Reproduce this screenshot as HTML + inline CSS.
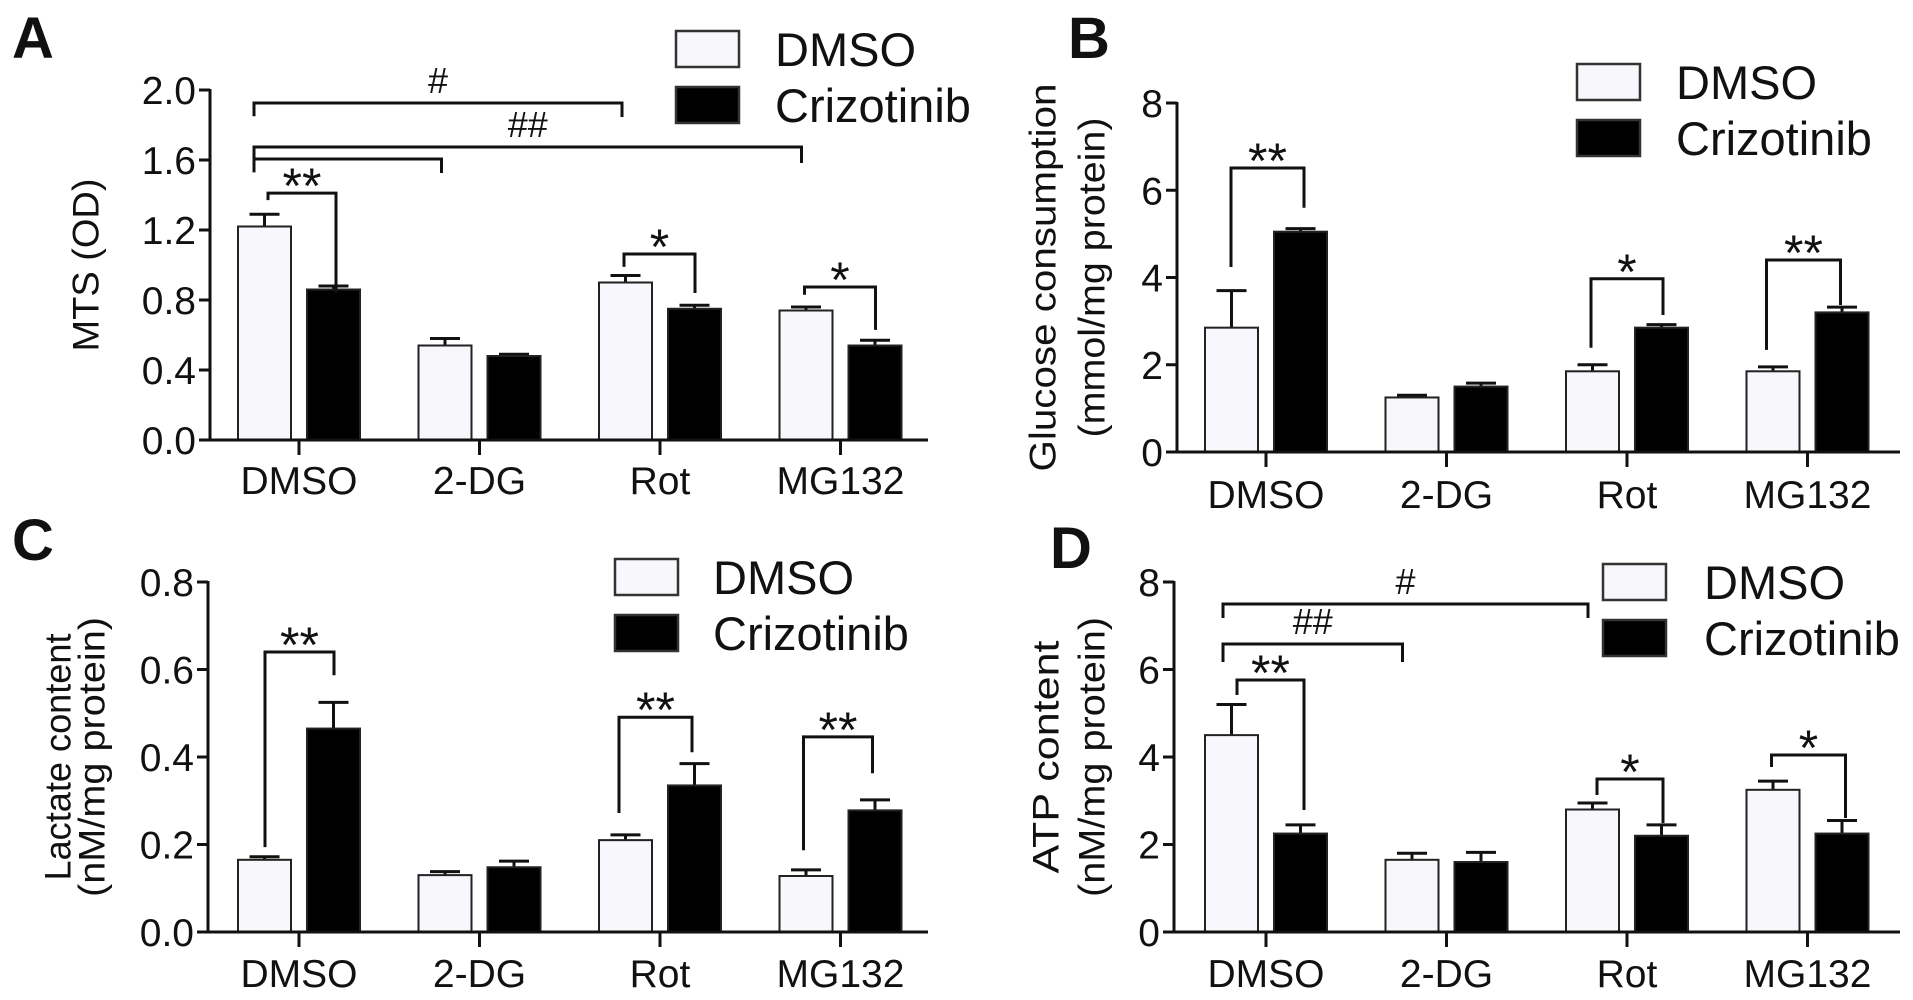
<!DOCTYPE html>
<html><head><meta charset="utf-8"><style>
html,body{margin:0;padding:0;background:#fff;}
svg{display:block;}
text{font-family:"Liberation Sans",sans-serif;fill:#111;}
</style></head><body>
<svg id="fig" width="1913" height="1000" viewBox="0 0 1913 1000" xmlns="http://www.w3.org/2000/svg"></svg>
<script>
// ---- data ----
const categories = ["DMSO","2-DG","Rot","MG132"];
const seriesNames = ["DMSO","Crizotinib"];
const aDmso = [1.22,0.54,0.90,0.74];
const aDmsoErr = [0.07,0.04,0.04,0.02];
const aCriz = [0.86,0.48,0.75,0.54];
const aCrizErr = [0.02,0.01,0.02,0.03];
const aTicks = [0,0.4,0.8,1.2,1.6,2.0];
const aTickLabels = ["0.0","0.4","0.8","1.2","1.6","2.0"];
const bDmso = [2.85,1.25,1.85,1.85];
const bDmsoErr = [0.85,0.05,0.15,0.1];
const bCriz = [5.05,1.5,2.85,3.2];
const bCrizErr = [0.07,0.08,0.07,0.12];
const bTicks = [0,2,4,6,8];
const bTickLabels = ["0","2","4","6","8"];
const cDmso = [0.165,0.13,0.21,0.128];
const cDmsoErr = [0.007,0.008,0.012,0.014];
const cCriz = [0.465,0.148,0.335,0.278];
const cCrizErr = [0.06,0.014,0.05,0.024];
const cTicks = [0,0.2,0.4,0.6,0.8];
const cTickLabels = ["0.0","0.2","0.4","0.6","0.8"];
const dDmso = [4.5,1.65,2.8,3.25];
const dDmsoErr = [0.7,0.15,0.15,0.2];
const dCriz = [2.25,1.6,2.2,2.25];
const dCrizErr = [0.2,0.22,0.25,0.3];
const dTicks = [0,2,4,6,8];
const dTickLabels = ["0","2","4","6","8"];
// brackets: [group1, group2, level, leftLeg, rightLeg, label] (values in data units)
const aBrackets = [[0,2,1.926,1.85,1.846,"#"],[0,3,1.674,1.53,1.583,"##"],[0,1,1.606,1.53,1.526,""],[0,0,1.411,1.371,0.84,"**"],[2,2,1.063,0.989,0.84,"*"],[3,3,0.874,0.83,0.629,"*"]];
const bBrackets = [[0,0,6.51,4.24,5.6,"**"],[2,2,3.97,2.39,3.14,"*"],[3,3,4.40,2.34,3.37,"**"]];
const cBrackets = [[0,0,0.64,0.194,0.587,"**"],[2,2,0.491,0.272,0.411,"**"],[3,3,0.446,0.187,0.363,"**"]];
const dBrackets = [[0,2,7.497,7.177,7.177,"#"],[0,1,6.583,6.171,6.171,"##"],[0,0,5.76,5.417,2.789,"**"],[2,2,3.497,3.131,2.491,"*"],[3,3,4.046,3.771,2.606,"*"]];

// ---- layout ----
const NS="http://www.w3.org/2000/svg";
const svg=document.getElementById('fig');
function mk(tag,attrs,parent){const e=document.createElementNS(NS,tag);for(const k in attrs)e.setAttribute(k,attrs[k]);(parent||svg).appendChild(e);return e;}

const panels=[
 {id:'a',letter:'A',lx:12,ly:58,ax:210,y0:440,yTop:90,vmax:2.0,xend:928,ticks0:299,ticks:aTicks,tl:aTickLabels,dm:aDmso,dme:aDmsoErr,cr:aCriz,cre:aCrizErr,br:aBrackets,
  brOff:[[-45,-38],[-45,-39],[-45,-38],[-31,37],[-36,35],[-36,35]],legX:676,legY:31,textX:775,ttl:["MTS (OD)"],ttlLen:[173],ttlX:[86],labY:494},
 {id:'b',letter:'B',lx:1068,ly:58,ax:1177,y0:452,yTop:103,vmax:8,xend:1900,ticks0:1266,ticks:bTicks,tl:bTickLabels,dm:bDmso,dme:bDmsoErr,cr:bCriz,cre:bCrizErr,br:bBrackets,
  brOff:[[-35,38],[-36,36],[-41,33]],legX:1577,legY:64,textX:1676,ttl:["Glucose consumption","(mmol/mg protein)"],ttlLen:[388,320],ttlX:[1043,1092],labY:508},
 {id:'c',letter:'C',lx:12,ly:560,ax:208,y0:932,yTop:582,vmax:0.8,xend:928,ticks0:299,ticks:cTicks,tl:cTickLabels,dm:cDmso,dme:cDmsoErr,cr:cCriz,cre:cCrizErr,br:cBrackets,
  brOff:[[-34,35],[-41,32],[-37,32]],legX:615,legY:559,textX:713,ttl:["Lactate content","(nM/mg protein)"],ttlLen:[247,280],ttlX:[58,92],labY:987},
 {id:'d',letter:'D',lx:1050,ly:568,ax:1174,y0:932,yTop:582,vmax:8,xend:1900,ticks0:1266,ticks:dTicks,tl:dTickLabels,dm:dDmso,dme:dDmsoErr,cr:dCriz,cre:dCrizErr,br:dBrackets,
  brOff:[[-43,-39],[-43,-44],[-29,38],[-30,36],[-36,38]],legX:1603,legY:564,textX:1704,ttl:["ATP content","(nM/mg protein)"],ttlLen:[233,280],ttlX:[1046,1092],labY:987}
];
const GAP=180.5;

panels.forEach(p=>{
  const g=mk('g',{});
  
  
  const Y=v=>p.y0-(v/p.vmax)*(p.y0-p.yTop);
  const X=i=>p.ticks0+i*GAP;
  const L=mk('text',{x:p.lx,y:p.ly,'font-size':58,'font-weight':'bold'},g);
  L.textContent=p.letter;
  
  
  p.ttl.forEach((t,k)=>{
    const cy=(p.y0+p.yTop)/2;
    const T=mk('text',{x:p.ttlX[k],y:cy,'font-size':37,'text-anchor':'middle','dominant-baseline':'central',textLength:p.ttlLen[k],lengthAdjust:'spacingAndGlyphs',transform:`rotate(-90 ${p.ttlX[k]} ${cy})`},g);
    T.textContent=t;
    
    
  });
  const ya=mk('line',{x1:p.ax,y1:p.yTop-1,x2:p.ax,y2:p.y0,stroke:'#111','stroke-width':3},g);
  
  
  p.ticks.forEach((v,k)=>{
    const t=mk('line',{x1:p.ax-11,y1:Y(v),x2:p.ax,y2:Y(v),stroke:'#111','stroke-width':3},g);
    
    
    const tx=mk('text',{x:p.ax-14,y:Y(v)+14,'font-size':39,'text-anchor':'end'},g);
    tx.textContent=p.tl[k];
    
    
  });
  categories.forEach((c,i)=>{
    const cx=X(i);
    [[p.dm,p.dme,-61,'#f7f7fc'],[p.cr,p.cre,8,'#000']].forEach((s,si)=>{
      const v=s[0][i],e=s[1][i],x0=cx+s[2],w=53;
      const er=mk('line',{x1:x0+w/2,y1:Y(v),x2:x0+w/2,y2:Y(v+e),stroke:'#111','stroke-width':3},g);
      
      
      const cap=mk('line',{x1:x0+w/2-15,y1:Y(v+e),x2:x0+w/2+15,y2:Y(v+e),stroke:'#111','stroke-width':3},g);
      
      
      const r=mk('rect',{x:x0,y:Y(v),width:w,height:p.y0-Y(v),fill:s[3],stroke:'#222','stroke-width':2},g);
      
      
    });
    const xt=mk('line',{x1:cx,y1:p.y0,x2:cx,y2:p.y0+15,stroke:'#111','stroke-width':3},g);
    
    
    const xl=mk('text',{x:cx,y:p.labY,'font-size':39,'text-anchor':'middle'},g);
    xl.textContent=c;
    
    
  });
  const xa=mk('line',{x1:p.ax-1,y1:p.y0,x2:p.xend,y2:p.y0,stroke:'#111','stroke-width':3},g);
  
  
  p.br.forEach((b,k)=>{
    const x1=X(b[0])+p.brOff[k][0],x2=X(b[1])+p.brOff[k][1];
    const yl=Y(b[2]);
    const pl=mk('polyline',{points:`${x1},${Y(b[3])} ${x1},${yl} ${x2},${yl} ${x2},${Y(b[4])}`,fill:'none',stroke:'#111','stroke-width':3},g);
    
    
    if(b[5]){
      const st=b[5].startsWith('#');
      const tt=mk('text',{x:(x1+x2)/2,y:yl-(st?10:-10),'font-size':st?36:50,'text-anchor':'middle'},g);
      tt.textContent=b[5];
      
      
    }
  });
  seriesNames.forEach((n,si)=>{
    const yy=p.legY+si*56;
    const lb=mk('rect',{x:p.legX,y:yy,width:63,height:36,fill:si?'#000':'#f7f7fc',stroke:'#333','stroke-width':2.5},g);
    
    
    const lt=mk('text',{x:p.textX,y:yy+35,'font-size':47},g);
    lt.textContent=n;
    
    
  });
});
</script>
</body></html>
